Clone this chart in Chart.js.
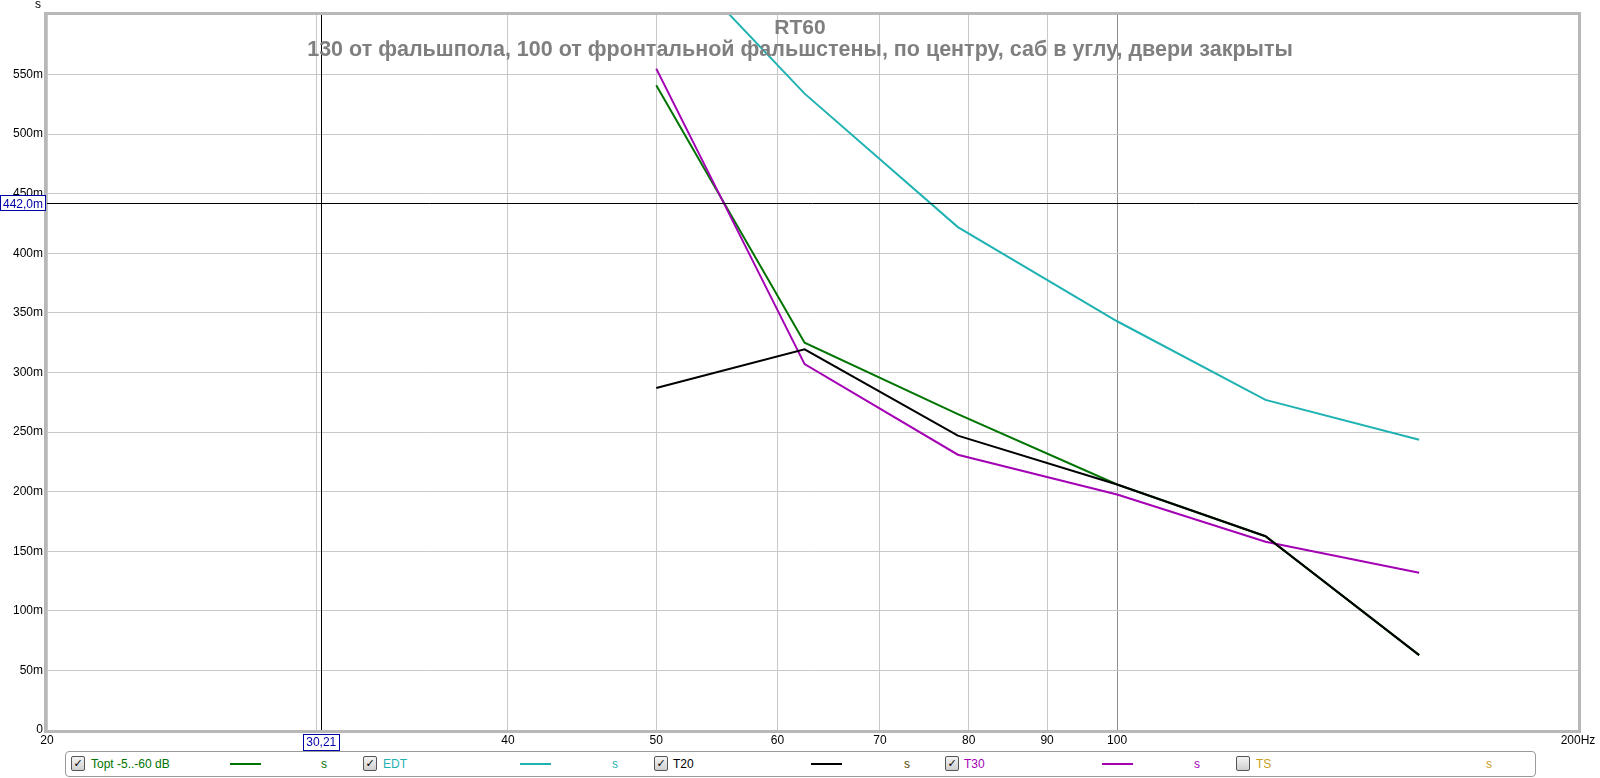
<!DOCTYPE html>
<html>
<head>
<meta charset="utf-8">
<script src="https://cdn.jsdelivr.net/npm/chart.js@4"></script>
<style>
  html, body { margin:0; padding:0; background:#fff; }
  #wrap { position:relative; width:1600px; height:778px; font-family:"Liberation Sans", Arial, sans-serif; }
  #rt60 { position:absolute; left:0; top:0; }
  .legend { position:absolute; left:65px; top:751px; width:1469px; height:24px;
            border:1px solid #9a9a9a; border-radius:4px; background:#fff; }
  .legend span { position:absolute; top:5px; font-size:12px; line-height:14px; }
  .legend .cb { top:4px; width:12px; height:13px; border:1px solid #555; border-radius:2px;
                background:linear-gradient(#f4f4f4,#cfcfcf); font-size:11px; line-height:13px;
                text-align:center; color:#000; font-family:"DejaVu Sans", sans-serif; font-weight:bold; }
  .legend .ln { top:11px; width:31px; height:2px; }
</style>
</head>
<body>
<div id="wrap">
  <canvas id="rt60" width="1600" height="778"></canvas>
  <div class="legend" id="legend"></div>
</div>
<script>
/* ===== Данные (с) ===== */
const freqs  = [50, 62.5, 78.7, 100, 125, 157.5];
const topt   = [0.541, 0.325, 0.265, 0.206, 0.1626, 0.0628];
const edt    = [0.665, 0.534, 0.422, 0.343, 0.277, 0.2435];
const t20    = [0.287, 0.3195, 0.247, 0.206, 0.1626, 0.0628];
const t30    = [0.555, 0.307, 0.231, 0.1976, 0.158, 0.132];

const xTicks = [20, 30, 40, 50, 60, 70, 80, 90, 100, 200];
const cursorX = 30.21;
const cursorY = 0.442;

const TITLE = 'RT60';
const SUBTITLE = '130 от фальшпола, 100 от фронтальной фальшстены, по центру, саб в углу, двери закрыты';

const C_TOPT = '#007400', C_EDT = '#1fb2b2', C_T20 = '#000000', C_T30 = '#a400b4', C_TS = '#c8a01e';

const pts = arr => arr.map((v, i) => ({ x: freqs[i], y: v }));

/* ===== Плагин: рамка, курсор, заголовок ===== */
const decor = {
  id: 'decor',
  afterDatasetsDraw(chart){
    const { ctx, chartArea: a, scales } = chart;
    const cx = scales.x.getPixelForValue(cursorX);
    const cy = scales.y.getPixelForValue(cursorY);
    ctx.save();
    // курсор
    ctx.strokeStyle = '#000'; ctx.lineWidth = 1;
    ctx.beginPath();
    ctx.moveTo(Math.round(cx) + .5, a.top); ctx.lineTo(Math.round(cx) + .5, a.bottom);
    ctx.moveTo(a.left, Math.round(cy) + .5); ctx.lineTo(a.right, Math.round(cy) + .5);
    ctx.stroke();
    // рамка
    ctx.strokeStyle = '#b8b8b8'; ctx.lineWidth = 3;
    ctx.strokeRect(a.left - 1.5, a.top - 1.5, a.right - a.left + 3, a.bottom - a.top + 3);
    // заголовок
    ctx.fillStyle = '#7f7f7f';
    ctx.textAlign = 'center'; ctx.textBaseline = 'middle';
    ctx.font = 'bold 21px "Liberation Sans", Arial, sans-serif';
    ctx.fillText(TITLE, 800, 28);
    ctx.font = 'bold 21.5px "Liberation Sans", Arial, sans-serif';
    ctx.fillText(SUBTITLE, 800, 50);
    // подписи курсора
    ctx.font = '12px "Liberation Sans", Arial, sans-serif';
    ctx.lineWidth = 1; ctx.strokeStyle = '#0000a8';
    const lx = String(cursorX).replace('.', ',');
    let w = ctx.measureText(lx).width + 6;
    ctx.fillStyle = '#fff';
    ctx.fillRect(cx - w / 2, a.bottom + 4, w, 16);
    ctx.strokeRect(Math.round(cx - w / 2) + .5, a.bottom + 4.5, Math.round(w), 16);
    ctx.fillStyle = '#0000a8';
    ctx.fillText(lx, cx, a.bottom + 13);
    const ly = (cursorY * 1000).toFixed(1).replace('.', ',') + 'm';
    ctx.fillStyle = '#fff';
    ctx.fillRect(0, cy - 8, 45, 16);
    ctx.strokeRect(0.5, Math.round(cy) - 7.5, 45, 15);
    ctx.fillStyle = '#0000a8';
    ctx.textAlign = 'right';
    ctx.fillText(ly, 43, cy + 1);
    // единица
    ctx.fillStyle = '#000'; ctx.textAlign = 'center';
    ctx.fillText('s', 38, 5);
    ctx.restore();
  }
};

const line = (label, data, color, order) => ({
  label, data: pts(data), borderColor: color, backgroundColor: color, order,
  borderWidth: 2, pointRadius: 0, tension: 0, fill: false
});

new Chart(document.getElementById('rt60').getContext('2d'), {
  type: 'line',
  data: {
    datasets: [
      line('Topt -5..-60 dB', topt, C_TOPT, 4),
      line('EDT', edt, C_EDT, 3),
      line('T20', t20, C_T20, 1),
      line('T30', t30, C_T30, 2)
    ]
  },
  options: {
    responsive: false,
    animation: false,
    events: [],
    layout: { padding: { left: 0, top: 15, right: 22, bottom: 28 } },
    plugins: { legend: { display: false }, tooltip: { enabled: false } },
    scales: {
      x: {
        type: 'logarithmic', min: 20, max: 200,
        afterBuildTicks: s => { s.ticks = xTicks.map(v => ({ value: v })); },
        afterFit: s => { s.height = 20; },
        ticks: {
          autoSkip: false, maxRotation: 0, padding: 3, color: '#000',
          font: { family: '"Liberation Sans", Arial, sans-serif', size: 12 },
          callback: v => v === 30 ? '' : (v === 200 ? '200Hz' : String(v))
        },
        grid: {
          drawTicks: false,
          color: c => (c.tick && c.tick.value === 100) ? '#8c8c8c' : '#c8c8c8'
        },
        border: { display: false }
      },
      y: {
        min: 0, max: 0.6,
        afterBuildTicks: s => { s.ticks = s.ticks.filter(t => t.value < 0.599); },
        afterFit: s => { s.width = 47; },
        ticks: {
          stepSize: 0.05, padding: 4, color: '#000',
          font: { family: '"Liberation Sans", Arial, sans-serif', size: 12 },
          callback: v => v === 0 ? '0' : Math.round(v * 1000) + 'm'
        },
        grid: { drawTicks: false, color: '#c8c8c8' },
        border: { display: false }
      }
    }
  },
  plugins: [decor]
});

/* ===== Легенда ===== */
const legendItems = [
  { cb: 5,    text: 'Topt -5..-60 dB', tx: 25,   ln: 164,  s: 255,  color: C_TOPT, on: true },
  { cb: 297,  text: 'EDT',             tx: 317,  ln: 454,  s: 546,  color: C_EDT,  on: true },
  { cb: 588,  text: 'T20',             tx: 607,  ln: 745,  s: 838,  color: C_T20,  on: true },
  { cb: 879,  text: 'T30',             tx: 898,  ln: 1036, s: 1128, color: C_T30,  on: true },
  { cb: 1170, text: 'TS',              tx: 1190, ln: null, s: 1420, color: C_TS,   on: false }
];
const leg = document.getElementById('legend');
for(const it of legendItems){
  leg.insertAdjacentHTML('beforeend',
    `<span class="cb" style="left:${it.cb}px">${it.on ? '✓' : ''}</span>` +
    `<span style="left:${it.tx}px;color:${it.color}">${it.text}</span>` +
    (it.ln != null ? `<span class="ln" style="left:${it.ln}px;background:${it.color}"></span>` : '') +
    `<span style="left:${it.s}px;color:${it.color === '#000000' ? '#5a4a00' : it.color}">s</span>`);
}
</script>
</body>
</html>
